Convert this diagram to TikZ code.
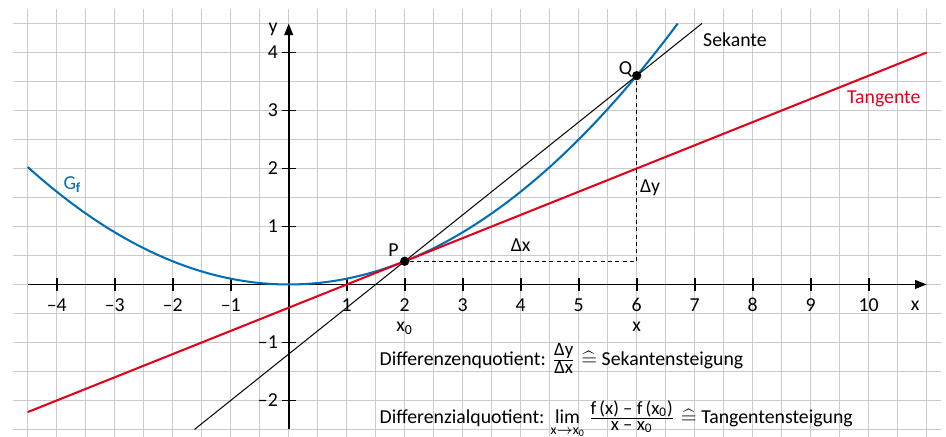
\documentclass[tikz,border=0pt]{standalone}
\usepackage{amsmath,amssymb}
\usepackage{fontspec}
\setmainfont{Carlito}
\usepackage{tikz}
\usetikzlibrary{arrows.meta,positioning}
\definecolor{graphblue}{RGB}{0,110,182}
\definecolor{tanred}{RGB}{226,0,26}
\definecolor{gridgray}{RGB}{202,202,202}
\newcommand{\corr}{\mathrel{\widehat{=}}}
\newcommand{\fr}[2]{\frac{\text{\fontsize{9.2}{10}\selectfont #1}}{\text{\fontsize{9.2}{10}\selectfont #2}}}

\begin{document}
\begin{tikzpicture}[font=\fontsize{9.7}{12}\selectfont,
  gridline/.style={gridgray,line width=0.7pt},
  axis/.style={line width=0.8pt},
  lbl/.style={anchor=base,inner sep=0pt},
  pt/.style={circle,fill=black,inner sep=0pt,minimum size=1.6mm}]
  \useasboundingbox (-4.978,-2.629) rectangle (11.333,4.905);
  \foreach \y in {-2.5,-2,...,4.5} \draw[gridline] (-4.75,\y) -- (11.25,\y);
  \foreach \x in {-4.5,-4,...,11} \draw[gridline] (\x,-2.7) -- (\x,4.75);
  \draw[axis,-{Triangle[length=2mm,width=1.5mm]}] (-4.5,0) -- (11,0);
  \draw[axis,-{Triangle[length=2mm,width=1.5mm]}] (0,-2.5) -- (0,4.5);
  \foreach \x/\t in {-4/–4,-3/–3,-2/–2,-1/–1,1/1,2/2,3/3,4/4,5/5,6/6,7/7,8/8,9/9,10/10} {
    \draw[axis] (\x,-0.12) -- (\x,0.12);
    \node[lbl] (xl\x) at (\x,-0.46) {\t};
  }
  \foreach \y/\t in {-2/–2,-1/–1,1/1,2/2,3/3,4/4} {
    \draw[axis] (-0.12,\y) -- (0.12,\y);
    \node[lbl,anchor=base east] (yl\y) at (-0.18,\y-0.11) {\t};
  }
  \node[lbl] (xax) at (10.8,-0.45) {x};
  \node[lbl] (yax) at (-0.27,4.34) {y};
  \draw[graphblue,line width=1pt,domain=-4.5:6.708,samples=120,smooth] plot (\x,{0.1*\x*\x});
  \draw[line width=0.5pt] (-1.625,-2.5) -- (7.125,4.5);
  \draw[tanred,line width=1pt] (-4.5,-2.2) -- (11,4);
  \node[pt] (P) at (2,0.4) {};
  \node[pt] (Q) at (6,3.6) {};
  \coordinate (R) at (6,0.4);
  \draw[line width=0.5pt,dash pattern=on 2pt off 1.6pt] (P) -- (R) -- (Q);
  \node[lbl,anchor=base east] (Plbl) at (1.9,0.49) {P};
  \node[lbl,anchor=base east] (Qlbl) at (5.93,3.62) {Q};
  \node[lbl] (dx) at (4,0.57) {Δx};
  \node[lbl,anchor=base west] (dy) at (6.05,1.58) {Δy};
  \node[lbl] (x0) at (2,-0.81) {x\textsubscript{0}};
  \node[lbl] (x1) at (6,-0.81) {x};
  \node[lbl,anchor=base west] (sek) at (7.14,4.11) {Sekante};
  \node[lbl,anchor=base west,tanred] (tan) at (9.62,3.12) {Tangente};
  \node[lbl,anchor=base west,graphblue] (gf) at (-3.89,1.63) {G\textsubscript{\textbf{f}}};
  \node[lbl,anchor=base west] (dq) at (1.56,-1.39)
    {Differenzenquotient: $\fr{Δy}{Δx}\corr$ Sekantensteigung};
  \node[lbl,anchor=base west] (tq) at (1.56,-2.39)
    {Differenzialquotient: $\lim\limits_{\text{x}\rightarrow\text{x}_{\text{0}}}\fr{f\,(x) – f\,(x\textsubscript{0})}{x – x\textsubscript{0}}\corr$ Tangentensteigung};
\end{tikzpicture}
\end{document}
